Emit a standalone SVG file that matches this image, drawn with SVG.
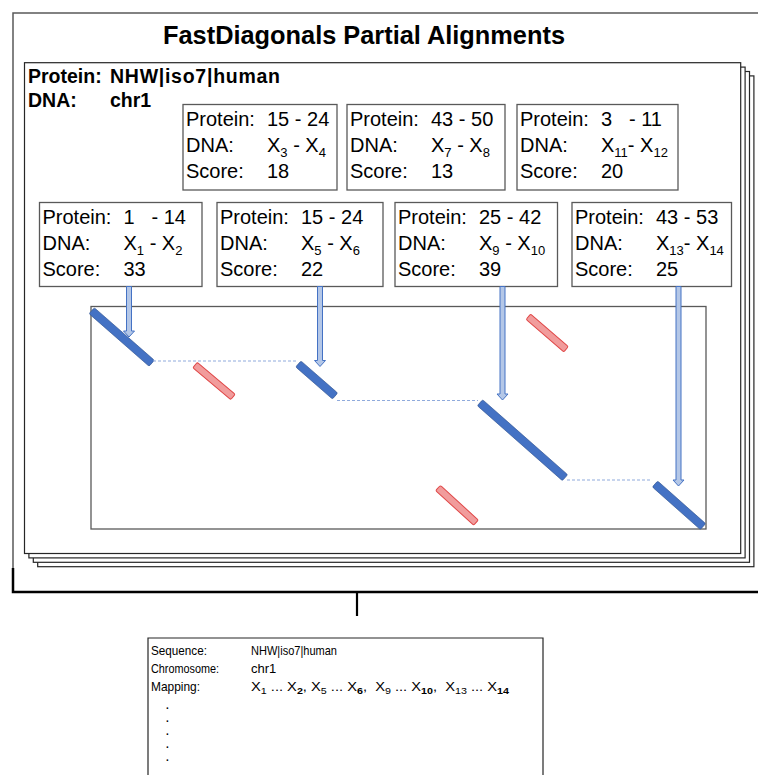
<svg xmlns="http://www.w3.org/2000/svg" width="758" height="775" viewBox="0 0 758 775">
<style>
.t{font-family:"Liberation Sans",Arial,sans-serif;font-size:20px;fill:#000}
.h{font-family:"Liberation Sans",Arial,sans-serif;font-size:19.5px;font-weight:bold;fill:#000}
.s{font-size:13px}
.bx{fill:#fff;stroke:#595959;stroke-width:1.3}
.page{fill:#fff;stroke:#262626;stroke-width:1.2}
.arr{fill:#b4c7e7;stroke:#4472c4;stroke-width:1}
.dash{stroke:#8faadc;stroke-width:1;stroke-dasharray:3 2;fill:none}
.blue{fill:#4472c4;stroke:#2f528f;stroke-width:0.6}
.red{fill:#f19c9c;stroke:#e04848;stroke-width:1}
.m{font-family:"Liberation Sans",Arial,sans-serif;font-size:13px;fill:#000}
.ms{font-size:9.5px}
.dot{font-family:"Liberation Sans",Arial,sans-serif;font-size:10px;font-weight:bold;fill:#000}
</style>
<rect width="758" height="775" fill="#fff"/>
<g id="frame">
<path d="M13,568 V13 H758" fill="none" stroke="#595959" stroke-width="1.5"/>
<path d="M13,568 V592 H758" fill="none" stroke="#000" stroke-width="2.5"/>
<path d="M357,592 V616" fill="none" stroke="#000" stroke-width="2.2"/>
</g>
<g id="pages">
<rect class="page" x="37.7" y="75.9" width="716.2" height="490.8"/>
<rect class="page" x="33.3" y="71.5" width="716.2" height="490.8"/>
<rect class="page" x="28.9" y="67.1" width="716.2" height="490.8"/>
<rect class="page" x="24.5" y="62.7" width="716.2" height="490.8"/>
</g>
<g id="title"><text x="163" y="44" font-family="Liberation Sans,Arial,sans-serif" font-size="25" font-weight="bold" textLength="402" lengthAdjust="spacingAndGlyphs">FastDiagonals Partial Alignments</text></g>
<g id="header">
<text class="h" x="28" y="83">Protein:</text><text class="h" x="110" y="83" textLength="170">NHW|iso7|human</text>
<text class="h" x="28" y="107">DNA:</text><text class="h" x="110" y="107">chr1</text>
</g>
<g id="matrix"><rect x="91" y="306.5" width="615" height="222.5" fill="none" stroke="#595959" stroke-width="1.3"/></g>
<g id="boxA"><rect class="bx" x="183" y="104.5" width="154" height="85.5"/>
<text class="t" x="186" y="125.5">Protein:</text><text class="t" x="267" y="125.5">15 - 24</text>
<text class="t" x="186" y="151.8">DNA:</text><text class="t" x="267" y="151.8">X<tspan class="s" dy="5">3</tspan><tspan dy="-5"> - X</tspan><tspan class="s" dy="5">4</tspan></text>
<text class="t" x="186" y="178.1">Score:</text><text class="t" x="267" y="178.1">18</text></g>
<g id="boxB"><rect class="bx" x="347" y="104.5" width="158" height="85.5"/>
<text class="t" x="350" y="125.5">Protein:</text><text class="t" x="431" y="125.5">43 - 50</text>
<text class="t" x="350" y="151.8">DNA:</text><text class="t" x="431" y="151.8">X<tspan class="s" dy="5">7</tspan><tspan dy="-5"> - X</tspan><tspan class="s" dy="5">8</tspan></text>
<text class="t" x="350" y="178.1">Score:</text><text class="t" x="431" y="178.1">13</text></g>
<g id="boxC"><rect class="bx" x="517" y="104.5" width="161" height="85.5"/>
<text class="t" x="520" y="125.5">Protein:</text><text class="t" x="601" y="125.5">3<tspan x="629">- 11</tspan></text>
<text class="t" x="520" y="151.8">DNA:</text><text class="t" x="601" y="151.8">X<tspan class="s" dy="5">11</tspan><tspan dy="-5">- X</tspan><tspan class="s" dy="5">12</tspan></text>
<text class="t" x="520" y="178.1">Score:</text><text class="t" x="601" y="178.1">20</text></g>
<g id="boxD"><rect class="bx" x="39.5" y="202.5" width="162.5" height="84"/>
<text class="t" x="42.5" y="223.5">Protein:</text><text class="t" x="123.5" y="223.5">1<tspan x="151.5">- 14</tspan></text>
<text class="t" x="42.5" y="249.8">DNA:</text><text class="t" x="123.5" y="249.8">X<tspan class="s" dy="5">1</tspan><tspan dy="-5"> - X</tspan><tspan class="s" dy="5">2</tspan></text>
<text class="t" x="42.5" y="276.1">Score:</text><text class="t" x="123.5" y="276.1">33</text></g>
<g id="boxE"><rect class="bx" x="217" y="202.5" width="166" height="84"/>
<text class="t" x="220" y="223.5">Protein:</text><text class="t" x="301" y="223.5">15 - 24</text>
<text class="t" x="220" y="249.8">DNA:</text><text class="t" x="301" y="249.8">X<tspan class="s" dy="5">5</tspan><tspan dy="-5"> - X</tspan><tspan class="s" dy="5">6</tspan></text>
<text class="t" x="220" y="276.1">Score:</text><text class="t" x="301" y="276.1">22</text></g>
<g id="boxF"><rect class="bx" x="395" y="202.5" width="162.5" height="84"/>
<text class="t" x="398" y="223.5">Protein:</text><text class="t" x="479" y="223.5">25 - 42</text>
<text class="t" x="398" y="249.8">DNA:</text><text class="t" x="479" y="249.8">X<tspan class="s" dy="5">9</tspan><tspan dy="-5"> - X</tspan><tspan class="s" dy="5">10</tspan></text>
<text class="t" x="398" y="276.1">Score:</text><text class="t" x="479" y="276.1">39</text></g>
<g id="boxG"><rect class="bx" x="572" y="202.5" width="159.5" height="84"/>
<text class="t" x="575" y="223.5">Protein:</text><text class="t" x="656" y="223.5">43 - 53</text>
<text class="t" x="575" y="249.8">DNA:</text><text class="t" x="656" y="249.8">X<tspan class="s" dy="5">13</tspan><tspan dy="-5">- X</tspan><tspan class="s" dy="5">14</tspan></text>
<text class="t" x="575" y="276.1">Score:</text><text class="t" x="656" y="276.1">25</text></g>
<g id="segments">
<rect class="blue" x="-39.9" y="-4" width="79.8" height="8" rx="1.5" transform="translate(121.7,337) rotate(41.2)"/>
<rect class="blue" x="-24.4" y="-4" width="48.8" height="8" rx="1.5" transform="translate(316.7,380) rotate(41.1)"/>
<rect class="blue" x="-56.7" y="-4" width="113.4" height="8" rx="1.5" transform="translate(522.5,440.2) rotate(41.4)"/>
<rect class="blue" x="-32.1" y="-4" width="64.2" height="8" rx="1.5" transform="translate(679,505.3) rotate(41.6)"/>
<rect class="red" x="-24.8" y="-3.5" width="49.6" height="7" rx="1.5" transform="translate(214,381) rotate(40.1)"/>
<rect class="red" x="-24.9" y="-3.5" width="49.8" height="7" rx="1.5" transform="translate(547.2,333) rotate(40.9)"/>
<rect class="red" x="-25.7" y="-3.5" width="51.4" height="7" rx="1.5" transform="translate(457,505.3) rotate(42.4)"/>
</g>
<g id="connectors">
<path class="dash" d="M153,361 H297"/>
<path class="dash" d="M337,400.5 H478"/>
<path class="dash" d="M567,480 H652"/>
<path class="arr" d="M126.5,286.5 V331 H123.5 L129,337 L134.5,331 H131.5 V286.5 Z"/>
<path class="arr" d="M317.5,286.5 V360.5 H314.5 L320,366.5 L325.5,360.5 H322.5 V286.5 Z"/>
<path class="arr" d="M500,286.5 V394 H497 L502.5,400 L508,394 H505 V286.5 Z"/>
<path class="arr" d="M676,286.5 V480 H673 L678.5,486 L684,480 H681 V286.5 Z"/>
</g>
<g id="result">
<path d="M148,775 V638 H543 V775" fill="#fff" stroke="#262626" stroke-width="1.2"/>
<text class="m" x="151" y="655" textLength="56" lengthAdjust="spacingAndGlyphs">Sequence:</text><text class="m" x="251" y="655" textLength="86" lengthAdjust="spacingAndGlyphs">NHW|iso7|human</text>
<text class="m" x="151" y="673" textLength="68" lengthAdjust="spacingAndGlyphs">Chromosome:</text><text class="m" x="251" y="673">chr1</text>
<text class="m" x="151" y="691" textLength="49" lengthAdjust="spacingAndGlyphs">Mapping:</text>
<text class="m" x="251" y="691" xml:space="preserve" textLength="258" lengthAdjust="spacingAndGlyphs">X<tspan class="ms" dy="3">1</tspan><tspan dy="-3"> ... X</tspan><tspan class="ms" font-weight="bold" dy="3">2</tspan><tspan dy="-3">, X</tspan><tspan class="ms" dy="3">5</tspan><tspan dy="-3"> ... X</tspan><tspan class="ms" font-weight="bold" dy="3">6</tspan><tspan dy="-3">,  X</tspan><tspan class="ms" dy="3">9</tspan><tspan dy="-3"> ... X</tspan><tspan class="ms" font-weight="bold" dy="3">10</tspan><tspan dy="-3">,  X</tspan><tspan class="ms" dy="3">13</tspan><tspan dy="-3"> ... X</tspan><tspan class="ms" font-weight="bold" dy="3">14</tspan></text>
<text class="dot" x="166" y="709">.</text>
<text class="dot" x="166" y="722">.</text>
<text class="dot" x="166" y="735">.</text>
<text class="dot" x="166" y="748">.</text>
<text class="dot" x="166" y="761">.</text>
</g>
</svg>
